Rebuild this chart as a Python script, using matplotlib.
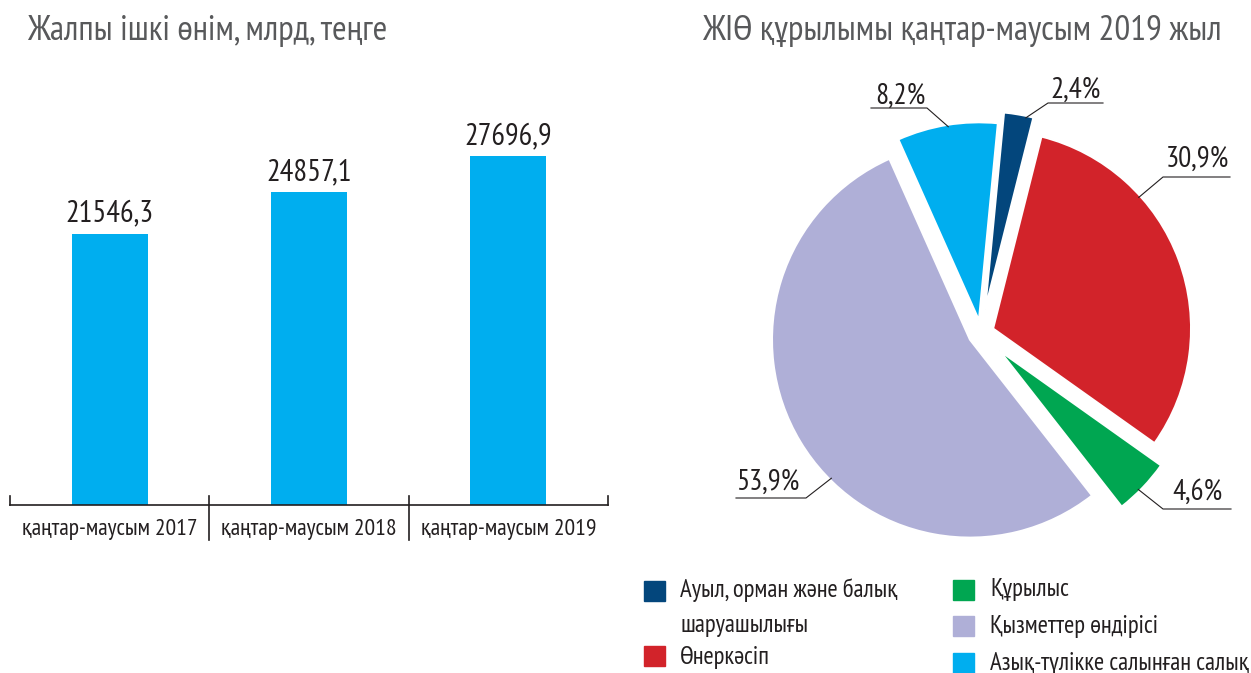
import matplotlib.pyplot as plt
import numpy as np
from matplotlib.patches import Rectangle

plt.rcParams['font.family'] = ['PT Sans Narrow', 'Liberation Sans Narrow',
                               'Liberation Sans', 'DejaVu Sans']

# bar chart data
periods = ['қаңтар-маусым 2017', 'қаңтар-маусым 2018', 'қаңтар-маусым 2019']
gdp_values = [21546.3, 24857.1, 27696.9]

# pie chart data (clockwise from the top)
sectors = ['Ауыл, орман және балық\nшаруашылығы', 'Өнеркәсіп', 'Құрылыс',
           'Қызметтер өндірісі', 'Азық-түлікке салынған салық']
shares = [2.4, 30.9, 4.6, 53.9, 8.2]
sector_colors = ['#03467c', '#d2232a', '#00a651', '#afafd7', '#00aeef']

bar_title = 'Жалпы ішкі өнім, млрд, теңге'
pie_title = 'ЖІӨ құрылымы қаңтар-маусым 2019 жыл'

W, H = 1251, 673
fig = plt.figure(figsize=(W / 100, H / 100), dpi=100)


def fx(px):
    return px / W


def fy(py):
    return 1 - py / H


text_col = '#231f20'
title_col = '#58595b'

# ---- bars ----
ax = fig.add_axes([fx(10), fy(505), (608 - 10) / W, (505 - 100) / H])
ax_h = 405
x = np.arange(len(periods))
ax.bar(x, gdp_values, width=0.38, color='#00aeef')
ax.set_xlim(-0.5, 2.5)
ax.set_ylim(0, ax_h * 79.4)
for s in ax.spines.values():
    s.set_visible(False)
ax.set_xticks([])
ax.set_yticks([])

px_unit = 79.4
for i, v in enumerate(gdp_values):
    ax.text(i, v + 12 * px_unit, f'{v:.1f}'.replace('.', ','), ha='center',
            va='baseline', fontsize=22, color=text_col)

ax.axhline(0, color=text_col, lw=1.2, clip_on=False)
tr = ax.get_xaxis_transform()
for b in [-0.5, 0.5, 1.5, 2.5]:
    low = -35 / ax_h if -0.5 < b < 2.5 else 0
    ax.plot([b, b], [9 / ax_h, low], transform=tr, color=text_col, lw=1.2,
            clip_on=False)
for i, lab in enumerate(periods):
    ax.text(i, -24 / ax_h, lab, transform=tr, ha='center', va='center',
            fontsize=17, color=text_col)

fig.text(fx(27), fy(31), bar_title, fontsize=25.3, color=title_col, va='center')
fig.text(fx(702), fy(31), pie_title, fontsize=25.3, color=title_col, va='center')

# ---- pie ----
R = 198
cx, cy = 981, 333
pax = fig.add_axes([fx(cx - 300), fy(cy + 300), 600 / W, 600 / H])
wedges, _ = pax.pie(shares, colors=sector_colors, startangle=84.5,
                    counterclock=False, radius=1,
                    explode=[0.12, 0.065, 0.13, 0.065, 0.065],
                    wedgeprops=dict(edgecolor='white', linewidth=1.5))
lim = 300 / R
pax.set_xlim(-lim, lim)
pax.set_ylim(-lim, lim)
pax.set_aspect('equal')
pax.axis('off')


def pd(px, py):
    return (px - cx) / R, (cy - py) / R


# anchor angle, elbow, underline end, text centre x, text baseline y
label_layout = [
    (78, (1048, 103), (1103, 103), 1076, 98),
    (42, (1163, 177), (1230, 177), 1197, 167),
    (-45, (1163, 509), (1231, 509), 1197, 500),
    (225, (806, 498), (736, 498), 768, 490),
    (99, (927, 108), (871, 108), 900, 104),
]
for w, share, (ang, elb, end, tx, ty) in zip(wedges, shares, label_layout):
    a = np.deg2rad(ang)
    ax0 = w.center[0] + 0.99 * w.r * np.cos(a)
    ay0 = w.center[1] + 0.99 * w.r * np.sin(a)
    ex, ey = pd(*elb)
    ux, uy = pd(*end)
    pax.plot([ax0, ex, ux], [ay0, ey, uy], color=text_col, lw=0.8,
             clip_on=False)
    tx_d, ty_d = pd(tx, ty)
    pax.text(tx_d, ty_d, f'{share:.1f}%'.replace('.', ','), ha='center',
             va='baseline', fontsize=21, color=text_col)

# ---- legend ----
legend_pos = [(644, 581, 680, 578), (644, 646, 680, 646), (953, 580, 990, 578),
              (953, 616, 990, 615), (953, 653, 990, 652)]
for name, col, (sx, sy, lx, ly) in zip(sectors, sector_colors, legend_pos):
    fig.patches.append(Rectangle((fx(sx), fy(sy + 20)), 21 / W, 20 / H,
                                 transform=fig.transFigure, color=col))
    fig.text(fx(lx), fy(ly), name, fontsize=17.8, color=text_col, va='top',
             linespacing=1.7)

fig.savefig('out.png', dpi=100)
